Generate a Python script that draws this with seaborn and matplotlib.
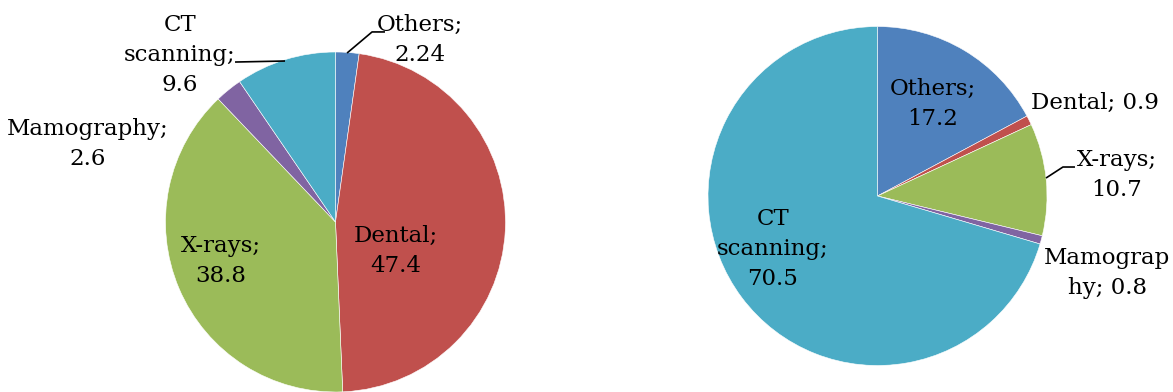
import matplotlib
matplotlib.use("Agg")
import matplotlib.pyplot as plt
import seaborn as sns

# Dose share by examination type (percent)
categories = ["Others", "Dental", "X-rays", "Mamography", "CT scanning"]
left_values = [2.24, 47.4, 38.8, 2.6, 9.6]
right_values = [17.2, 0.9, 10.7, 0.8, 70.5]
colors = ["#4F81BD", "#C0504D", "#9BBB59", "#8064A2", "#4BACC6"]

sns.set_theme(style="white")
plt.rcParams["font.family"] = ["DejaVu Serif"]

W, H = 1173, 392
fig = plt.figure(figsize=(W / 100, H / 100), dpi=100)
fig.patch.set_facecolor("white")


def pie_axes(cx, cy, r):
    ax = fig.add_axes([(cx - r) / W, (H - cy - r) / H, 2 * r / W, 2 * r / H])
    ax.set_xlim(-1, 1)
    ax.set_ylim(-1, 1)
    ax.axis("off")
    return ax


def draw_pie(ax, values):
    ax.pie(values, colors=colors, startangle=90, counterclock=False, radius=1,
           wedgeprops=dict(edgecolor="white", linewidth=0.4))
    ax.set_xlim(-1, 1)
    ax.set_ylim(-1, 1)


def put(ax, text, x, y, leader=None):
    ax.text(x, y, text, ha="center", va="center", multialignment="center",
            fontsize=16.5, linespacing=1.45, color="black", clip_on=False)
    if leader is not None:
        xs, ys = zip(*leader)
        ax.plot(xs, ys, color="black", lw=1.2, clip_on=False,
                solid_capstyle="butt")


fmt = lambda v: f"{v:g}"

# Left chart
axl = pie_axes(335.5, 222, 170)
draw_pie(axl, left_values)
put(axl, f"{categories[0]};\n{fmt(left_values[0])}", 0.497, 1.071,
    leader=[(0.068, 0.994), (0.215, 1.118), (0.291, 1.118)])
put(axl, f"{categories[1]};\n{fmt(left_values[1])}", 0.356, -0.171)
put(axl, f"{categories[2]};\n{fmt(left_values[2])}", -0.674, -0.229)
put(axl, f"{categories[3]};\n{fmt(left_values[3])}", -1.456, 0.459)
put(axl, "CT\nscanning;\n" + fmt(left_values[4]), -0.915, 0.982,
    leader=[(-0.591, 0.941), (-0.297, 0.947)])

# Right chart
axr = pie_axes(877.5, 196, 169.5)
draw_pie(axr, right_values)
put(axr, f"{categories[0]};\n{fmt(right_values[0])}", 0.327, 0.543)
put(axr, f"{categories[1]}; {fmt(right_values[1])}", 1.283, 0.549)
put(axr, f"{categories[2]};\n{fmt(right_values[2])}", 1.413, 0.124,
    leader=[(0.994, 0.106), (1.094, 0.171), (1.165, 0.171)])
put(axr, "Mamograp\nhy; " + fmt(right_values[3]), 1.354, -0.454)
put(axr, "CT\nscanning;\n" + fmt(right_values[4]), -0.617, -0.313)

fig.savefig("out.png", dpi=100, facecolor="white")
